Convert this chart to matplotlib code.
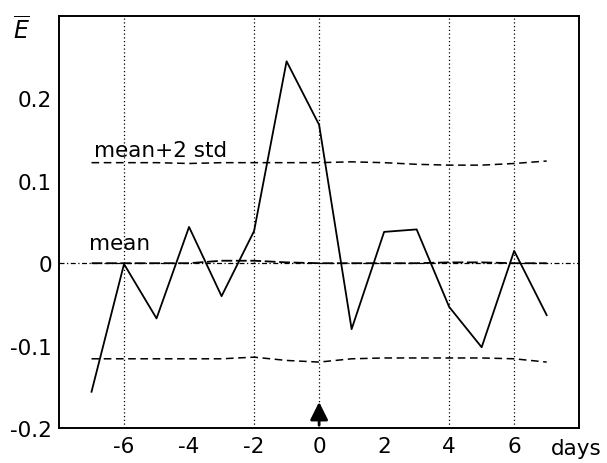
import matplotlib
matplotlib.use('Agg')
from matplotlib import pyplot as plt

plt.rcParams['font.family'] = ['DejaVu Sans']
plt.rcParams['mathtext.fontset'] = 'dejavusans'

days = [-7, -6, -5, -4, -3, -2, -1, 0, 1, 2, 3, 4, 5, 6, 7]
e_bar = [-0.156, -0.001, -0.067, 0.044, -0.040, 0.039, 0.245, 0.168,
         -0.080, 0.038, 0.041, -0.053, -0.102, 0.015, -0.063]
mean = [0.0, 0.0, 0.0, 0.0, 0.003, 0.003, 0.001, 0.0, 0.0, 0.0, 0.0,
        0.001, 0.001, 0.0, 0.0]
upper = [0.122, 0.122, 0.122, 0.121, 0.122, 0.122, 0.122, 0.122, 0.123,
         0.122, 0.120, 0.119, 0.119, 0.121, 0.124]
lower = [-0.116, -0.116, -0.116, -0.116, -0.116, -0.114, -0.118, -0.120,
         -0.116, -0.115, -0.115, -0.115, -0.115, -0.116, -0.120]
grid_x = [-6, -2, 0, 4, 6]
xticks = [-6, -4, -2, 0, 2, 4, 6]
yticks = [-0.2, -0.1, 0, 0.1, 0.2]
ytick_labels = ['-0.2', '-0.1', '0', '0.1', '0.2']

fig = plt.figure(figsize=(6.07, 4.64), dpi=100)
ax = fig.add_axes([0.0972, 0.0754, 0.857, 0.888])

# grid: only a few vertical lines and the zero line
for gx in grid_x:
    ax.axvline(gx, color='black', lw=0.9, ls=(0, (1, 2)), zorder=1)
ax.axhline(0, color='black', lw=0.9, ls=(0, (4, 2, 1, 2)), zorder=1)

ax.plot(days, upper, color='black', lw=1.1, ls=(0, (5, 3)))
ax.plot(days, lower, color='black', lw=1.1, ls=(0, (5, 3)))
ax.plot(days, mean, color='black', lw=1.3, ls=(0, (6, 2)))
ax.plot(days, e_bar, color='black', lw=1.3)

ax.text(-6.92, 0.130, 'mean+2 std', fontsize=15.5, va='baseline')
ax.text(-7.08, 0.017, 'mean', fontsize=15.5, va='baseline')

ax.annotate('', xy=(0, -0.165), xytext=(0, -0.2),
            arrowprops=dict(arrowstyle='-|>', color='black', lw=2,
                            mutation_scale=27))

ax.set_xlim(-8, 8)
ax.set_ylim(-0.2, 0.3)
ax.set_xticks(xticks)
ax.set_xticklabels([str(t) for t in xticks])
ax.set_yticks(yticks)
ax.set_yticklabels(ytick_labels)
ax.tick_params(axis='y', length=0, labelsize=15.5, pad=5)
ax.tick_params(axis='x', length=0, labelsize=15.5, pad=6)
for s in ax.spines.values():
    s.set_linewidth(1.4)

fig.text(0.022, 0.915, r'$\overline{E}$', fontsize=17)
fig.text(0.907, 0.02, 'days', fontsize=15.5)

fig.savefig('out.png', dpi=100)
